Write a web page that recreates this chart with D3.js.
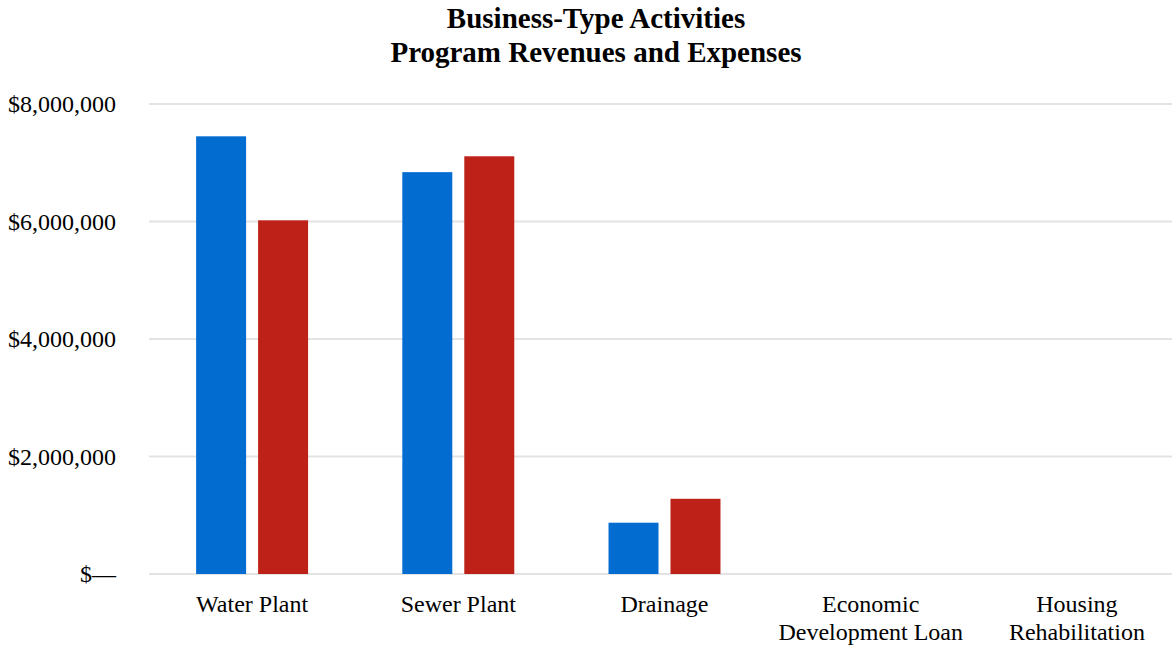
<!DOCTYPE html>
<html>
<head>
<meta charset="utf-8">
<script src="https://cdn.jsdelivr.net/npm/d3@7"></script>
<style>
  html, body { margin: 0; padding: 0; background: #ffffff; }
  svg { display: block; font-family: "Liberation Serif", "Times New Roman", serif; }
</style>
</head>
<body>
<svg id="chart" width="1172" height="645"></svg>
<script>
// Business-type activities: program revenues vs. expenses by fund
const categories = [
  ["Water Plant"],
  ["Sewer Plant"],
  ["Drainage"],
  ["Economic", "Development Loan"],
  ["Housing", "Rehabilitation"]
];
const seriesNames = ["Program Revenues", "Expenses"];
const revenues = [7450000, 6840000, 873000, 0, 0];
const expenses = [6020000, 7110000, 1280000, 0, 0];
const yTicks = [0, 2000000, 4000000, 6000000, 8000000];
const colors = ["#036cd1", "#be2117"];

const svg = d3.select("#chart");
const W = 1172, H = 645;
const margin = { left: 149, right: -8, top: 104, bottom: 71 };

const keys = categories.map(c => c.join(" "));
const rows = keys.map((k, i) => ({ key: k, lines: categories[i], values: [revenues[i], expenses[i]] }));

const x0 = d3.scaleBand()
  .domain(keys)
  .range([margin.left, W - margin.right])
  .paddingInner(0.457)
  .paddingOuter(0.2285);

const x1 = d3.scaleBand()
  .domain(seriesNames)
  .range([0, x0.bandwidth()])
  .paddingInner(0.1935)
  .paddingOuter(0);

const y = d3.scaleLinear()
  .domain([0, 8000000])
  .range([H - margin.bottom, margin.top]);

// Title
const title = svg.append("text")
  .attr("text-anchor", "middle")
  .attr("font-weight", "bold")
  .attr("font-size", 29)
  .attr("fill", "#000");
title.append("tspan").attr("x", 596).attr("y", 28).text("Business-Type Activities");
title.append("tspan").attr("x", 596).attr("y", 62).text("Program Revenues and Expenses");

// Gridlines and y-axis labels
const fmt = d3.format("$,");
const yAxis = d3.axisLeft(y)
  .tickValues(yTicks)
  .tickSize(0)
  .tickPadding(33)
  .tickFormat(d => d === 0 ? "$\u2014" : fmt(d));

svg.append("g")
  .selectAll("line")
  .data(yTicks)
  .join("line")
  .attr("x1", margin.left)
  .attr("x2", W)
  .attr("y1", d => y(d))
  .attr("y2", d => y(d))
  .attr("stroke", "#e3e3e3")
  .attr("stroke-width", 2);

const yg = svg.append("g")
  .attr("transform", `translate(${margin.left},0)`)
  .call(yAxis);
yg.select(".domain").remove();
yg.attr("font-family", null).attr("font-size", null);
yg.selectAll("text")
  .attr("font-size", 24)
  .attr("fill", "#000");

// Bars
const groups = svg.append("g")
  .selectAll("g")
  .data(rows)
  .join("g")
  .attr("transform", d => `translate(${x0(d.key)},0)`);

groups.selectAll("rect")
  .data(d => d.values.map((v, i) => ({ name: seriesNames[i], value: v, i })))
  .join("rect")
  .attr("x", d => x1(d.name))
  .attr("width", x1.bandwidth())
  .attr("y", d => y(d.value))
  .attr("height", d => y(0) - y(d.value))
  .attr("fill", d => colors[d.i]);

// Category labels
const xl = svg.append("g")
  .selectAll("text")
  .data(rows)
  .join("text")
  .attr("text-anchor", "middle")
  .attr("font-size", 24)
  .attr("fill", "#000")
  .attr("transform", d => `translate(${x0(d.key) + x0.bandwidth() / 2},612)`);

xl.selectAll("tspan")
  .data(d => d.lines)
  .join("tspan")
  .attr("x", 0)
  .attr("y", (d, i) => i * 28)
  .text(d => d);
</script>
</body>
</html>
